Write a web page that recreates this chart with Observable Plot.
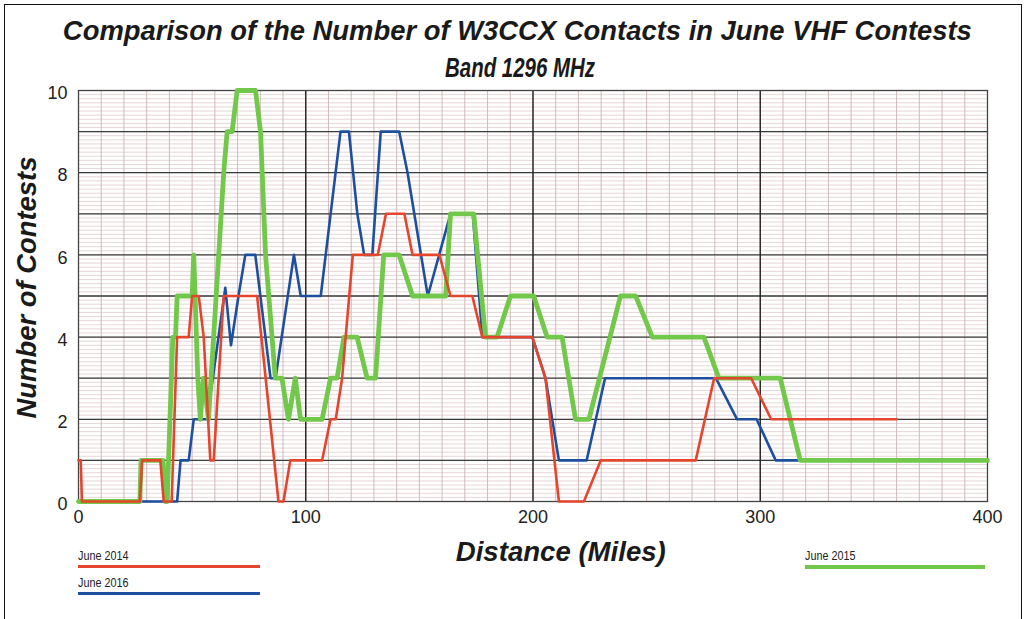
<!DOCTYPE html>
<html><head><meta charset="utf-8">
<script src="https://cdn.jsdelivr.net/npm/d3@7"></script>
<script src="https://cdn.jsdelivr.net/npm/@observablehq/plot@0.6"></script>
<style>
body{margin:0;background:#fff;}
#wrap{position:relative;width:1027px;height:619px;overflow:hidden;font-family:"Liberation Sans",Arial,sans-serif;color:#1a1a1a;}
#chart{position:absolute;left:0;top:0;}
.border{position:absolute;left:4px;top:4px;width:1016px;height:660px;border:1.5px solid #111;}
.t{position:absolute;white-space:nowrap;font-family:"Liberation Sans",Arial,sans-serif;font-weight:bold;font-style:italic;line-height:1;}
.leg{position:absolute;font-family:"Liberation Sans",Arial,sans-serif;font-size:12px;color:#222;transform-origin:0 0;transform:scaleX(0.9);}
.sw{position:absolute;height:3px;}
</style></head>
<body><div id="wrap">
<div class="border"></div>
<div id="chart"></div>
<div class="t" id="title" style="font-size:28px;">Comparison of the Number of W3CCX Contacts in June VHF Contests</div>
<div class="t" id="sub" style="font-size:27px;">Band 1296 MHz</div>
<div class="t" id="ylab" style="font-size:27px;">Number of Contests</div>
<div class="t" id="xlab" style="font-size:27px;">Distance (Miles)</div>
<div id="legend"></div>
</div>
<script>
// ---- data ----
const seriesNames = ["June 2014", "June 2016", "June 2015"];
const miles2014 = [0, 1, 1.5, 27, 28, 36, 37.5, 41, 43.4, 48.5, 50, 52.9, 55.1, 58, 59.5, 63.9, 78.6, 88, 90.2, 93.2, 107.2, 110.9, 113.2, 116, 120.7, 131.7, 135.3, 143.4, 147, 158.8, 163.7, 173.3, 177.7, 199.7, 205.5, 211.4, 222.4, 229.8, 271.6, 279.7, 296, 304.8, 360];
const contests2014 = [1, 1, 0, 0, 1, 1, 0, 0, 4, 4, 5, 5, 4, 1, 1, 5, 5, 0, 0, 1, 1, 2, 2, 3, 6, 6, 7, 7, 6, 6, 5, 5, 4, 4, 3, 0, 0, 1, 1, 3, 3, 2, 2];
const miles2016 = [0, 43.4, 44.9, 48.5, 50.7, 56.6, 64.6, 67.1, 70.4, 73.4, 77.8, 84.5, 86.7, 94.8, 97.8, 106.6, 115.3, 119, 122.7, 125.7, 129.3, 133, 141.1, 144.8, 153.7, 163.7, 173.5, 177.7, 199.7, 205.5, 211.4, 223.6, 231.7, 280.5, 289.8, 298.4, 306.8, 317];
const contests2016 = [0, 0, 1, 1, 2, 2, 5.2, 3.8, 5, 6, 6, 3, 3, 6, 5, 5, 9, 9, 7, 6, 6, 9, 9, 8, 5, 7, 7, 4, 4, 3, 1, 1, 3, 3, 2, 2, 1, 1];
const miles2015 = [0, 27, 27.5, 37.2, 38.3, 39, 41.5, 42.7, 43.4, 50, 50.7, 52.5, 53.6, 55, 57.2, 61.7, 63.9, 65.4, 67.6, 69.8, 77.9, 80.1, 82.3, 86.6, 89.5, 92.4, 95.4, 97.7, 107.2, 110.9, 113.8, 116.8, 122.6, 127, 130.7, 134.3, 141.1, 147, 161.6, 163.7, 173.9, 179.1, 184.2, 190.1, 200.3, 206.2, 212.8, 218.7, 224.6, 238.5, 245.2, 252.5, 275.2, 281.8, 308.8, 317.6, 400];
const contests2015 = [0, 0, 1, 1, 0, 0, 4, 4, 5, 5, 6, 3, 2, 3, 2, 6, 8, 9, 9, 10, 10, 9, 6, 3, 3, 2, 3, 2, 2, 3, 3, 4, 4, 3, 3, 6, 6, 5, 5, 7, 7, 4, 4, 5, 5, 4, 4, 2, 2, 5, 5, 4, 4, 3, 3, 1, 1];
const xTicks = [0, 100, 200, 300, 400];
const yTicks = [0, 2, 4, 6, 8, 10];
const majorX = [100, 200, 300];
const majorY = [1, 2, 3, 4, 5, 6, 7, 8, 9];

const colors = {"June 2014": "#e6452d", "June 2016": "#1d4f9e", "June 2015": "#72c84b"};
const widths = {"June 2014": 2.6, "June 2016": 2.6, "June 2015": 4.8};

const toRows = (xs, ys, s) => xs.map((m, i) => ({miles: m, n: ys[i], series: s}));
const rows2014 = toRows(miles2014, contests2014, "June 2014");
const rows2016 = toRows(miles2016, contests2016, "June 2016");
const rows2015 = toRows(miles2015, contests2015, "June 2015");

const minorX = d3.range(0, 401, 10);
const minorY = d3.range(0, 100.5, 1).map(d => d / 10);

const lineOf = (rows, s) => Plot.line(rows, {x: "miles", y: "n", stroke: colors[s], strokeWidth: widths[s], strokeLinejoin: "round", strokeLinecap: "round"});

const chart = Plot.plot({
  width: 1027, height: 619,
  marginLeft: 78, marginRight: 40, marginTop: 90, marginBottom: 118,
  x: {domain: [0, 400]},
  y: {domain: [0, 10]},
  style: {fontFamily: "'Liberation Sans', Arial, sans-serif", fontSize: "18px", color: "#222", background: "transparent"},
  marks: [
    Plot.ruleY(minorY, {stroke: "#dcc6c6", strokeWidth: 0.7}),
    Plot.ruleX(minorX, {stroke: "#c9b3b3", strokeWidth: 0.9}),
    Plot.ruleY(majorY, {stroke: "#3a3a3a", strokeWidth: 1.3}),
    Plot.ruleX(majorX, {stroke: "#222", strokeWidth: 1.4}),
    Plot.frame({stroke: "#444", strokeWidth: 1.3}),
    Plot.axisX({ticks: xTicks, tickSize: 0, tickPadding: 9, label: null, fontSize: 18}),
    Plot.axisY({ticks: yTicks, tickSize: 0, tickPadding: 11, label: null, fontSize: 18, dy: 3}),
    lineOf(rows2016, "June 2016"),
    lineOf(rows2015, "June 2015"),
    lineOf(rows2014, "June 2014")
  ]
});
document.getElementById("chart").appendChild(chart);

// fit a text block to a target width, centred at (cx, cy), optional rotation
function fit(id, cx, cy, target, rotate) {
  const el = document.getElementById(id);
  const w = el.getBoundingClientRect().width;
  const h = el.getBoundingClientRect().height;
  const s = target / w;
  el.style.left = (cx - w / 2) + "px";
  el.style.top = (cy - h / 2) + "px";
  el.style.transformOrigin = "50% 50%";
  el.style.transform = (rotate ? "rotate(-90deg) " : "") + "scaleX(" + s + ")";
}
fit("title", 517, 31, 909, false);
fit("sub", 520, 68, 150, false);
fit("ylab", 27, 287, 262, true);
fit("xlab", 561, 552, 210, false);

// legend (HTML, outside the plot)
const legPos = {"June 2014": [78, 549, 182], "June 2016": [78, 576, 182], "June 2015": [805, 549, 180]};
const leg = document.getElementById("legend");
seriesNames.forEach(s => {
  const [l, t, w] = legPos[s];
  const tx = document.createElement("div");
  tx.className = "leg"; tx.style.left = l + "px"; tx.style.top = t + "px"; tx.textContent = s;
  leg.appendChild(tx);
  const sw = document.createElement("div");
  sw.className = "sw"; sw.style.left = l + "px"; sw.style.top = (t + 16) + "px"; sw.style.width = w + "px";
  sw.style.background = colors[s]; sw.style.height = (s === "June 2015" ? 4 : 3) + "px";
  leg.appendChild(sw);
});
</script>
</body></html>
